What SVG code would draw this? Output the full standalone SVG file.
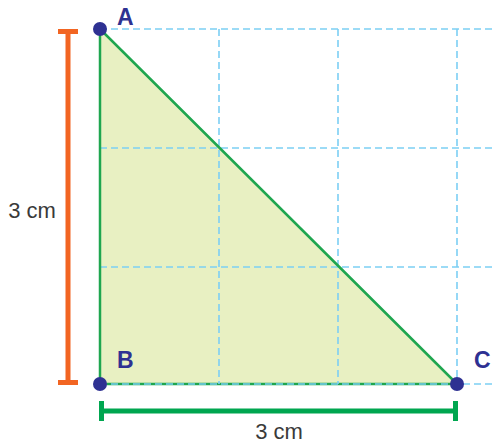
<svg xmlns="http://www.w3.org/2000/svg" width="494" height="444" viewBox="0 0 494 444">
<style>
.grid{stroke:#7ccff4;stroke-width:1.6;stroke-dasharray:7 4;fill:none}
.edge{stroke:#1fa64f;stroke-width:2.5;fill:none;stroke-linecap:round}
.pt{fill:#2e3192}
.lbl{font-family:"Liberation Sans",Arial,sans-serif;font-weight:bold;font-size:23px;fill:#2e3192}
.dim{font-family:"Liberation Sans",Arial,sans-serif;font-size:22px;fill:#3a3a3a}
</style>
<rect width="494" height="444" fill="#ffffff"/>
<g id="triangle">
<polygon points="100,29 100,384 457,384" fill="#e8f0c2"/>
<line class="edge" x1="100" y1="384" x2="457" y2="384"/>
</g>
<g id="grid">
<line class="grid" x1="100" y1="29" x2="494" y2="29"/>
<line class="grid" x1="100" y1="148" x2="494" y2="148"/>
<line class="grid" x1="100" y1="267" x2="494" y2="267"/>
<line class="grid" x1="100" y1="384" x2="494" y2="384"/>
<line class="grid" x1="219" y1="29" x2="219" y2="384"/>
<line class="grid" x1="338" y1="29" x2="338" y2="384"/>
<line class="grid" x1="457" y1="29" x2="457" y2="384"/>
</g>
<g id="connectors">
<line class="edge" x1="100" y1="29" x2="100" y2="384"/>
<line class="edge" x1="100" y1="29" x2="457" y2="384"/>
</g>
<g id="dim-vertical">
<line x1="68" y1="31" x2="68" y2="382" stroke="#f26522" stroke-width="5"/>
<line x1="58" y1="31.5" x2="78" y2="31.5" stroke="#f26522" stroke-width="5"/>
<line x1="58" y1="382.5" x2="78" y2="382.5" stroke="#f26522" stroke-width="5"/>
<text class="dim" x="32" y="218" text-anchor="middle">3 cm</text>
</g>
<g id="dim-horizontal">
<line x1="101" y1="411" x2="455" y2="411" stroke="#00a650" stroke-width="5"/>
<line x1="101.5" y1="401" x2="101.5" y2="421" stroke="#00a650" stroke-width="5"/>
<line x1="455.5" y1="401" x2="455.5" y2="421" stroke="#00a650" stroke-width="5"/>
<text class="dim" x="279" y="439" text-anchor="middle">3 cm</text>
</g>
<g id="A">
<circle class="pt" cx="100" cy="29" r="7"/>
<text class="lbl" x="117" y="25">A</text>
</g>
<g id="B">
<circle class="pt" cx="100" cy="384" r="7"/>
<text class="lbl" x="117" y="368">B</text>
</g>
<g id="C">
<circle class="pt" cx="457" cy="384" r="7"/>
<text class="lbl" x="474" y="368">C</text>
</g>
</svg>
